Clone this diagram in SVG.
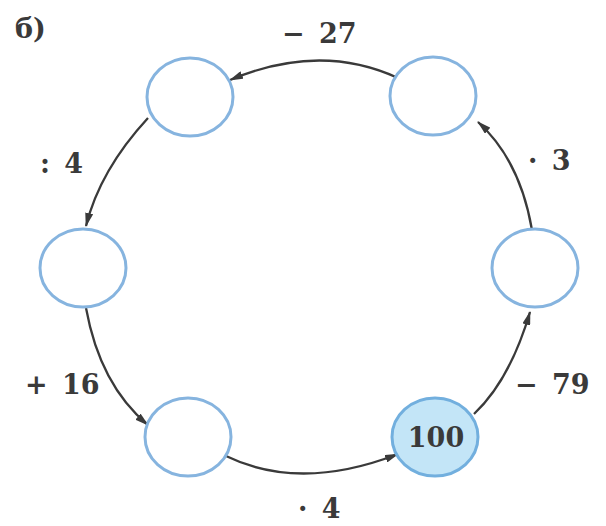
<svg xmlns="http://www.w3.org/2000/svg" width="606" height="526" viewBox="0 0 606 526">
<style>
.node{fill:#ffffff;stroke:#86b4df;stroke-width:3}
.hl{fill:#c3e5f7;stroke:#72afde;stroke-width:3}
.edge{fill:none;stroke:#3a3a3a;stroke-width:2.3}
.lbl{font-family:"DejaVu Serif","Liberation Serif",serif;font-weight:bold;font-size:27px;fill:#3a3a3a;word-spacing:5px}
</style>
<defs>
<marker id="arr" viewBox="0 0 14 8" refX="13" refY="4" markerWidth="14" markerHeight="8" markerUnits="userSpaceOnUse" orient="auto">
<path d="M0,0 L14,4 L0,8 z" fill="#3a3a3a"/>
</marker>
</defs>
<rect width="606" height="526" fill="#ffffff"/>
<g id="connectors">
<path class="edge" d="M474,414 Q510,380 530,312" marker-end="url(#arr)"/>
<path class="edge" d="M532,230 Q520,160 478,122" marker-end="url(#arr)"/>
<path class="edge" d="M398,78 Q320,42 230,80" marker-end="url(#arr)"/>
<path class="edge" d="M148,118 Q100,170 86,226" marker-end="url(#arr)"/>
<path class="edge" d="M86,308 Q100,385 148,425" marker-end="url(#arr)"/>
<path class="edge" d="M226,456 Q300,492 398,454" marker-end="url(#arr)"/>
</g>
<g id="n1"><ellipse class="node" cx="190" cy="97" rx="43" ry="39"/></g>
<g id="n2"><ellipse class="node" cx="433" cy="96" rx="43" ry="39"/></g>
<g id="n3"><ellipse class="node" cx="83" cy="268" rx="43" ry="39"/></g>
<g id="n4"><ellipse class="node" cx="535" cy="268" rx="43" ry="39"/></g>
<g id="n5"><ellipse class="node" cx="188" cy="437" rx="43" ry="39"/></g>
<g id="n6"><ellipse class="hl" cx="435" cy="437" rx="43" ry="39"/><text class="lbl" x="436" y="447" text-anchor="middle">100</text></g>
<g id="labels">
<text class="lbl" x="15" y="38">б)</text>
<text class="lbl" x="282" y="43">− 27</text>
<text class="lbl" x="40" y="173">: 4</text>
<text class="lbl" x="528" y="170">· 3</text>
<text class="lbl" x="25" y="394">+ 16</text>
<text class="lbl" x="515" y="394">− 79</text>
<text class="lbl" x="298" y="518">· 4</text>
</g>
</svg>
